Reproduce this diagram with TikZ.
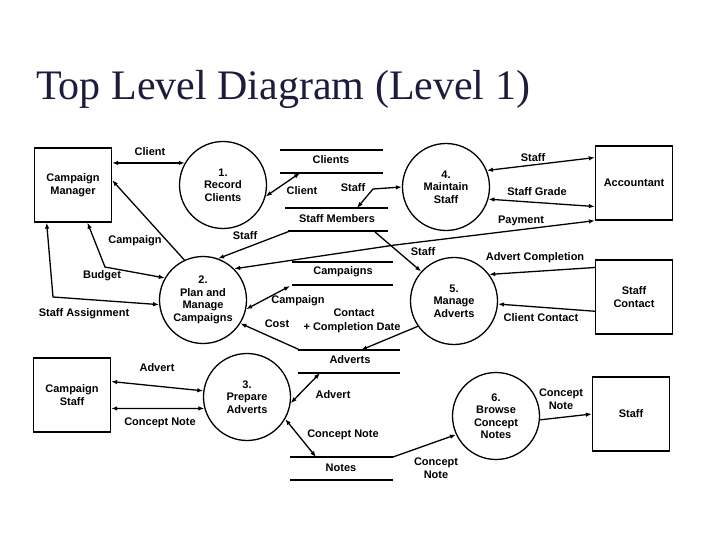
\documentclass[tikz,border=0pt]{standalone}
\usepackage{fontspec}
\setmainfont{Liberation Sans}
\newfontfamily\titlefont{Liberation Serif}
\usetikzlibrary{arrows.meta}
\definecolor{titlecol}{RGB}{28,28,60}
\begin{document}
\begin{tikzpicture}[x=1pt,y=-1pt,
  every node/.style={font=\bfseries\fontsize{11}{12.5}\selectfont, align=center, inner sep=1pt},
  ent/.style={draw, line width=1.3pt, minimum width=77pt, minimum height=74pt, inner sep=0pt},
  proc/.style={draw, circle, line width=1.3pt, minimum size=87pt, inner sep=0pt},
  st/.style={line width=1.3pt},
  fl/.style={line width=1.3pt, -{Latex[length=6pt,width=4.5pt]}},
  bfl/.style={line width=1.3pt, {Latex[length=6pt,width=4.5pt]}-{Latex[length=6pt,width=4.5pt]}}]
\useasboundingbox (0,0) rectangle (720,540);
\node[font=\titlefont\fontsize{42}{48}\selectfont, text=titlecol, anchor=base west] (title) at (35,100) {Top Level Diagram (Level 1)};

% entities
\node[ent] (cm) at (73,185) {Campaign\\Manager};
\node[ent] (acc) at (634,183) {Accountant};
\node[ent] (sc) at (634,297) {Staff\\Contact};
\node[ent] (cs) at (72,395) {Campaign\\Staff};
\node[ent] (stf) at (631,414) {Staff};

% processes
\node[proc] (p1) at (223,185) {1.\\Record\\Clients};
\node[proc] (p4) at (446,187) {4.\\Maintain\\Staff};
\node[proc] (p2) at (203,300) {2.\\Plan and\\Manage\\Campaigns};
\node[proc] (p5) at (454,301) {5.\\Manage\\Adverts};
\node[proc] (p3) at (247,397) {3.\\Prepare\\Adverts};
\node[proc] (p6) at (496,416) {6.\\Browse\\Concept\\Notes};

% data stores
\draw[st] (280,150) -- (383,150); \draw[st] (280,173) -- (383,173);
\node (clients) at (331,160) {Clients};
\draw[st] (285,208) -- (388,208); \draw[st] (288,231) -- (388,231);
\node (staffm) at (337,219) {Staff Members};
\draw[st] (292,262) -- (393,262); \draw[st] (292,285) -- (393,285);
\node (campaigns) at (343,272) {Campaigns};
\draw[st] (298,350) -- (400,350); \draw[st] (298,373) -- (400,373);
\node (adverts) at (350,360) {Adverts};
\draw[st] (290,457) -- (393,457); \draw[st] (290,480) -- (393,480);
\node (notes) at (341,468) {Notes};

% connector free ends on the stores
\coordinate (t1) at (300,173);
\coordinate (b1) at (373,189); \coordinate (t2) at (357,208);
\coordinate (b2) at (395,245);
\coordinate (t3) at (290,231);
\coordinate (t4) at (375,232);
\coordinate (t5) at (361,350);
\coordinate (t6) at (290,286);
\coordinate (t7) at (300,350);
\coordinate (b3) at (105,267); \coordinate (b4) at (53,297);
\coordinate (t8) at (320,373); \coordinate (t9) at (316,457);
\coordinate (t10) at (393,457);

% flows
\draw[bfl] (cm.east |- p1.150) -- (p1.150);
\draw[bfl] (p1.-15) -- (t1);
\draw[bfl] (p4.west) -- (b1) -- (t2);
\draw[bfl] (p4.22) -- (acc.147);
\draw[bfl] (p4.-16) -- (acc.211);
\draw[bfl] (p2.45) -- (b2) -- (acc.south west);
\draw[fl] (t3) -- (p2.70);
\draw[fl] (t4) -- (p5.138);
\draw[fl] (sc.143) -- (p5.37);
\draw[fl] (sc.200) -- (p5.-4);
\draw[fl] (p5.215) -- (t5);
\draw[bfl] (p2.-12) -- (t6);
\draw[fl] (t7) -- (p2.-32);
\draw[fl] (p2.115) -- (cm.7);
\draw[bfl] (cm.-69) -- (b3) -- (p2.150);
\draw[bfl] (cm.235) -- (b4) -- (p2.186);
\draw[bfl] (cs.19) -- (p3.172);
\draw[bfl] (cs.-19) -- (p3.195);
\draw[bfl] (p3.-8) -- (t8);
\draw[bfl] (p3.-30) -- (t9);
\draw[fl] (t10) -- (p6.205);
\draw[fl] (p6.-5) -- (stf.west);

% labels
\node (l1) at (150,152) {Client};
\node (l2) at (302,191) {Client};
\node (l3) at (353,188) {Staff};
\node (l4) at (533,158) {Staff};
\node (l5) at (537,192) {Staff Grade};
\node (l6) at (521,221) {Payment};
\node (l7) at (245,236) {Staff};
\node (l8) at (423,252) {Staff};
\node (l9) at (535,258) {Advert Completion};
\node (l10) at (541,318) {Client Contact};
\node (l11) at (354,313) {Contact};
\node (l12) at (352,328) {+ Completion Date};
\node (l13) at (298,301) {Campaign};
\node (l14) at (277,324) {Cost};
\node (l15) at (135,241) {Campaign};
\node (l16) at (102,276) {Budget};
\node (l17) at (84,314) {Staff Assignment};
\node (l18) at (157,368) {Advert};
\node (l19) at (160,423) {Concept Note};
\node (l20) at (333,395) {Advert};
\node (l21) at (343,435) {Concept Note};
\node (l22) at (436,468) {Concept\\Note};
\node (l23) at (561,399) {Concept\\Note};
\end{tikzpicture}
\end{document}
